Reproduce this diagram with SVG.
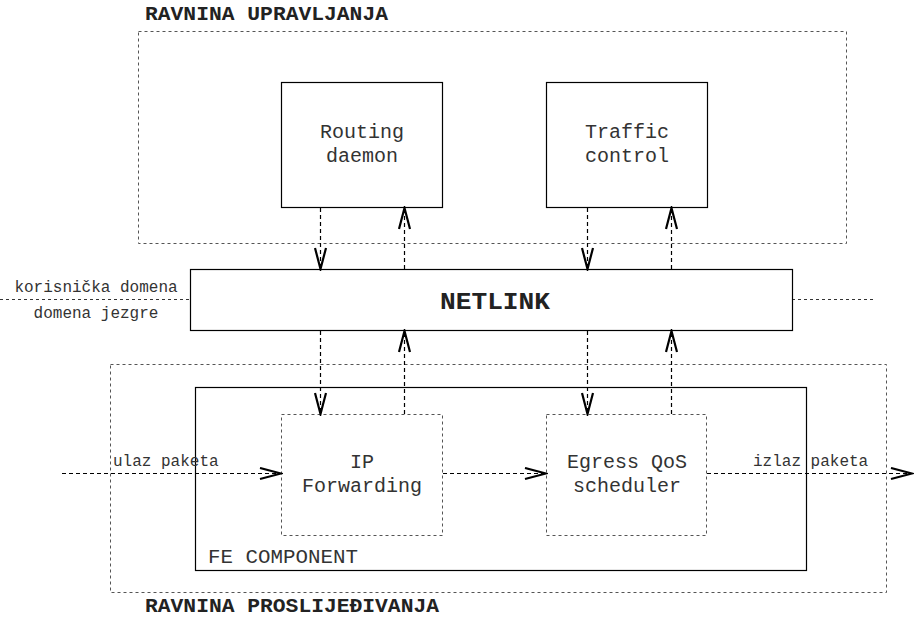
<svg xmlns="http://www.w3.org/2000/svg" width="915" height="620" viewBox="0 0 915 620">
<style>
text{font-family:"Liberation Mono","Courier New",monospace;fill:#333}
.t{font-size:20px}
.s{font-size:16px}
.b{font-weight:bold;fill:#222}
.plane{fill:none;stroke:#555;stroke-width:1;stroke-dasharray:3 3}
.solid{fill:#fff;stroke:#000;stroke-width:1.2}
.inner{fill:#fff;stroke:#555;stroke-width:1;stroke-dasharray:3 3}
.arr{fill:none;stroke:#000;stroke-width:1.2;stroke-dasharray:4 3;marker-end:url(#v)}
.sep{fill:none;stroke:#333;stroke-width:1;stroke-dasharray:3 3}
</style>
<defs>
<marker id="v" markerUnits="userSpaceOnUse" markerWidth="24" markerHeight="14" viewBox="0 0 24 14" refX="22" refY="7" orient="auto">
<path d="M1,1.5 L22,7 L1,12.5" fill="none" stroke="#000" stroke-width="2.2" stroke-dasharray="none"/>
</marker>
</defs>
<g id="control-plane">
<rect class="plane" x="138.5" y="31.5" width="708" height="212"/>
<text class="t b" x="145" y="20" textLength="243" lengthAdjust="spacingAndGlyphs">RAVNINA UPRAVLJANJA</text>
</g>
<g id="forwarding-plane">
<rect class="plane" x="110.5" y="364.5" width="776" height="228"/>
<text class="t b" x="145" y="612" textLength="294" lengthAdjust="spacingAndGlyphs">RAVNINA PROSLIJEĐIVANJA</text>
</g>
<g id="domain-separator">
<line class="sep" x1="0" y1="299.5" x2="190" y2="299.5"/>
<line class="sep" x1="792" y1="299.5" x2="876" y2="299.5"/>
<text class="s" x="96" y="292" text-anchor="middle">korisnička domena</text>
<text class="s" x="96" y="318" text-anchor="middle">domena jezgre</text>
</g>
<g id="routing-daemon">
<rect class="solid" x="281.5" y="82.5" width="161" height="125"/>
<text class="t" x="362" y="138" text-anchor="middle">Routing</text>
<text class="t" x="362" y="162" text-anchor="middle">daemon</text>
</g>
<g id="traffic-control">
<rect class="solid" x="546.5" y="82.5" width="161" height="125"/>
<text class="t" x="627" y="138" text-anchor="middle">Traffic</text>
<text class="t" x="627" y="162" text-anchor="middle">control</text>
</g>
<g id="netlink">
<rect class="solid" x="190.5" y="269.5" width="602" height="61"/>
<text class="b" x="495" y="309" font-size="24" text-anchor="middle" textLength="110" lengthAdjust="spacingAndGlyphs">NETLINK</text>
</g>
<g id="fe-component">
<rect class="solid" x="195.5" y="387.5" width="611" height="183"/>
<text class="t" x="208" y="563" textLength="150" lengthAdjust="spacingAndGlyphs">FE COMPONENT</text>
</g>
<g id="ip-forwarding">
<rect class="inner" x="281.5" y="414.5" width="161" height="121"/>
<text class="t" x="362" y="468" text-anchor="middle">IP</text>
<text class="t" x="362" y="492" text-anchor="middle">Forwarding</text>
</g>
<g id="egress-qos">
<rect class="inner" x="546.5" y="414.5" width="160" height="121"/>
<text class="t" x="627" y="468" text-anchor="middle">Egress QoS</text>
<text class="t" x="627" y="492" text-anchor="middle">scheduler</text>
</g>
<g id="connectors">
<line class="arr" x1="320.5" y1="208" x2="320.5" y2="269"/>
<line class="arr" x1="404.5" y1="269" x2="404.5" y2="208"/>
<line class="arr" x1="587.5" y1="208" x2="587.5" y2="269"/>
<line class="arr" x1="671.5" y1="269" x2="671.5" y2="208"/>
<line class="arr" x1="320.5" y1="331" x2="320.5" y2="414"/>
<line class="arr" x1="404.5" y1="414" x2="404.5" y2="331"/>
<line class="arr" x1="587.5" y1="331" x2="587.5" y2="414"/>
<line class="arr" x1="671.5" y1="414" x2="671.5" y2="331"/>
<line class="arr" x1="62" y1="473.5" x2="281" y2="473.5"/>
<line class="arr" x1="443" y1="473.5" x2="546" y2="473.5"/>
<line class="arr" x1="707" y1="473.5" x2="912" y2="473.5"/>
<text class="s" x="113" y="466">ulaz paketa</text>
<text class="s" x="753" y="466">izlaz paketa</text>
</g>
</svg>
